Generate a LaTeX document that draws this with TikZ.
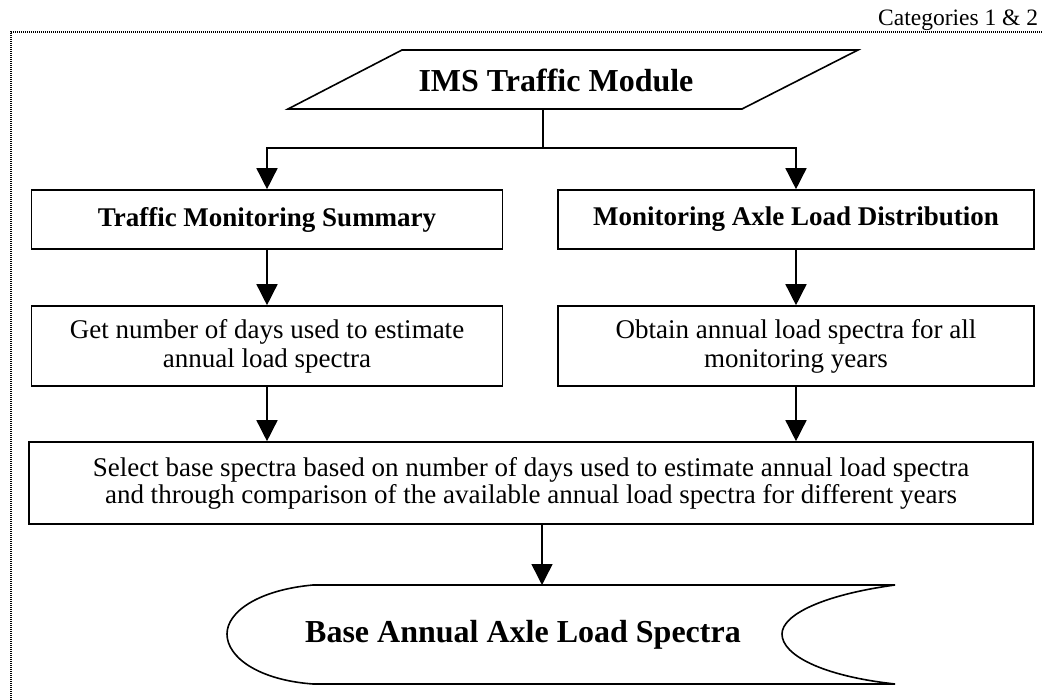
\documentclass[tikz,border=0pt]{standalone}
\usepackage{fontspec}
\setmainfont{Liberation Serif}
\usetikzlibrary{arrows.meta}
\tikzset{
  box/.style={draw, line width=1.6pt, align=center, inner sep=0pt},
  arr/.style={line width=1.5pt, -{Triangle[length=21pt,width=21pt]}},
  conn/.style={line width=1.5pt},
  border/.style={line width=1.6pt, dash pattern=on 1.2pt off 0.8pt},
  head/.style={font=\bfseries\fontsize{27}{29}\selectfont},
  body/.style={font=\fontsize{27}{29}\selectfont},
  big/.style={font=\bfseries\fontsize{32}{34}\selectfont}
}
\begin{document}
\begin{tikzpicture}[x=1pt,y=-1pt]
\useasboundingbox (0,0) rectangle (1042,700);
% border and category label
\draw[border] (11,700) -- (11,32) -- (1042,32);
\node[anchor=base west, inner sep=0pt, font=\fontsize{23.5}{25}\selectfont] (cat) at (878,26) {Categories 1 \& 2};
% IMS parallelogram
\draw[line width=1.6pt] (402,50) -- (858,50) -- (742,109) -- (288,109) -- cycle;
\node[big, inner sep=0pt] (ims) at (556,80) {IMS Traffic Module};
\coordinate (imsb) at (543,109);
\coordinate (split) at (543,148);
% boxes
\node[box, head, minimum width=471pt, minimum height=59pt] (b1) at (267,219.5) {Traffic Monitoring Summary};
\node[box, head, minimum width=476pt, minimum height=59pt] (r1) at (796,219.5) {Monitoring Axle Load Distribution};
\node[box, body, minimum width=471pt, minimum height=80pt] (b2) at (267,346) {Get number of days used to estimate\\annual load spectra};
\node[box, body, minimum width=476pt, minimum height=80pt] (r2) at (796,346) {Obtain annual load spectra for all\\monitoring years};
\node[box, minimum width=1004pt, minimum height=82pt, font=\fontsize{27}{27}\selectfont] (b3) at (531,483) {Select base spectra based on number of days used to estimate annual load spectra\\and through comparison of the available annual load spectra for different years};
% final terminal shape
\draw[line width=1.6pt] (313,585) -- (895,585)
  .. controls (822,595) and (782,615) .. (782,634)
  .. controls (782,655) and (822,676) .. (895,684)
  -- (313,684)
  .. controls (258,680) and (227,657) .. (227,634)
  .. controls (227,612) and (258,590) .. (313,585);
\node[big, inner sep=0pt] (base) at (523,635) {Base Annual Axle Load Spectra};
\coordinate (baset) at (542,585);
% connectors
\draw[conn] (imsb) -- (split);
\draw[arr] (split) -| (b1.north);
\draw[arr] (split) -| (r1.north);
\draw[arr] (b1.south) -- (b2.north);
\draw[arr] (r1.south) -- (r2.north);
\draw[arr] (b2.south) -- (b2.south |- b3.north);
\draw[arr] (r2.south) -- (r2.south |- b3.north);
\draw[arr] (b3.south -| baset) -- (baset);
\end{tikzpicture}
\end{document}
